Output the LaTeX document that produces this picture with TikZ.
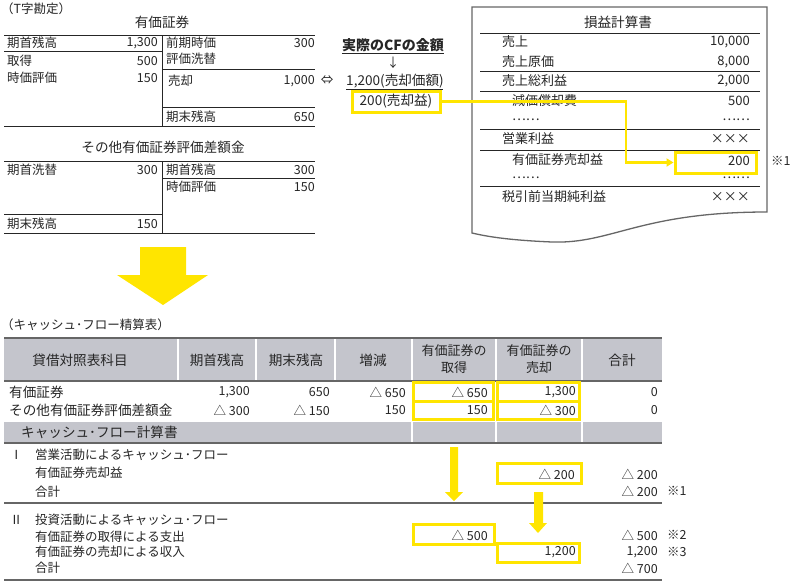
\documentclass[tikz,border=0pt]{standalone}
\usepackage{fontspec}
\setmainfont{Noto Sans CJK JP}
\usetikzlibrary{positioning,arrows.meta}
\definecolor{kiiro}{HTML}{FFE500}
\definecolor{hai}{HTML}{C4C5CC}
\definecolor{sen}{HTML}{666666}
\begin{document}
\begin{tikzpicture}[x=1pt, y=-1pt,
    every node/.style={font=\fontsize{12.5}{15}\selectfont, inner sep=0pt, text=black!85},
    big/.style={font=\fontsize{13.6}{16}\selectfont},
    lbl/.style={anchor=west},
    num/.style={anchor=east},
    rule/.style={draw=black!85, line width=0.9pt},
    grayrule/.style={draw=sen, line width=1.2pt},
    kwaku/.style={draw=kiiro, line width=3pt},
    kline/.style={draw=kiiro, line width=2.5pt},
    doc/.style={draw=black!60, line width=1.3pt, fill=white}]
    \useasboundingbox (0,0) rectangle (791,581);

    % T字勘定: 有価証券
    \node[lbl] (ttitle) at (1,9) {（T字勘定）};
    \node[big] (yk) at (162,22) {有価証券};
    \draw[rule] (4,35) -- (315,35);
    \draw[rule] (162,35) -- (162,126);
    \draw[rule] (4,126) -- (315,126);
    \draw[rule] (4,51) -- (162,51);
    \draw[rule] (162,69) -- (315,69);
    \draw[rule] (162,107) -- (315,107);
    \node[lbl] (yk1) at (7,43) {期首残高};   \node[num] at (158,43) {1,300};
    \node[lbl] (yk2) at (7,61) {取得};       \node[num] at (158,61) {500};
    \node[lbl] (yk3) at (7,78) {時価評価};   \node[num] at (158,78) {150};
    \node[lbl] (yk4) at (166,43) {前期時価}; \node[num] at (315,43) {300};
    \node[lbl] (yk5) at (166,59) {評価洗替};
    \node[lbl] (yk6) at (168,81) {売却};     \node[num] (baikyaku) at (315,81) {1,000};
    \node[lbl] (yk7) at (166,117) {期末残高}; \node[num] at (315,117) {650};

    % T字勘定: その他有価証券評価差額金
    \node[big] (sa) at (163,147) {その他有価証券評価差額金};
    \draw[rule] (4,161) -- (315,161);
    \draw[rule] (162,161) -- (162,233);
    \draw[rule] (4,233) -- (315,233);
    \draw[rule] (4,214) -- (162,214);
    \draw[rule] (162,178) -- (315,178);
    \node[lbl] (sa1) at (7,170) {期首洗替};   \node[num] at (158,170) {300};
    \node[lbl] (sa2) at (7,224) {期末残高};   \node[num] at (158,224) {150};
    \node[lbl] (sa3) at (166,170) {期首残高}; \node[num] at (315,170) {300};
    \node[lbl] (sa4) at (166,187) {時価評価}; \node[num] at (315,187) {150};

    % 実際のCF
    \node (eq) at (327,80) {⇔};
    \node[font=\fontsize{14}{16}\selectfont\bfseries] (cftitle) at (393,45) {実際のCFの金額};
    \draw[rule] ([yshift=-1.5]cftitle.south west) -- ([yshift=-1.5]cftitle.south east);
    \node (cfarrow) at (393,63) {↓};
    \node[big] (cfprice) at (395,81) {1,200(売却価額)};
    \draw[rule] (346,89) -- (443,89);
    \node[big, kwaku, minimum width=88, minimum height=21] (cfgain) at (396,101.5) {200(売却益)};

    % 損益計算書
    \draw[doc] (472,7) -- (767,7) -- (767,212) .. controls (640,212) and (612,244) .. (552,242)
        .. controls (505,240) and (485,236) .. (472,233) -- cycle;
    \node[big] (pl) at (618,22) {損益計算書};
    \draw[rule] (480,33) -- (760,33);
    \draw[rule] (480,71) -- (760,71);
    \draw[rule] (480,91) -- (760,91);
    \draw[rule] (480,129) -- (760,129);
    \draw[rule] (480,150) -- (760,150);
    \draw[rule] (480,186) -- (760,186);
    \begin{scope}[every node/.append style={font=\fontsize{13}{15}\selectfont}]
    \node[lbl] (pl1) at (502,42) {売上};           \node[num] at (750,42) {10,000};
    \node[lbl] (pl2) at (502,62) {売上原価};       \node[num] at (750,62) {8,000};
    \node[lbl] (pl3) at (502,81) {売上総利益};     \node[num] at (750,81) {2,000};
    \node[lbl] (pl4) at (512,101) {減価償却費};    \node[num] at (750,101) {500};
    \node[lbl] (pl5) at (512,120) {……};           \node[num] at (750,120) {……};
    \node[lbl] (pl6) at (502,139) {営業利益};       \node[num] at (750,139) {×××};
    \node[lbl] (pl7) at (512,160) {有価証券売却益}; \node[num] at (750,161) {200};
    \node[lbl] (pl8) at (512,178) {……};           \node[num] at (750,178) {……};
    \node[lbl] (pl9) at (502,197) {税引前当期純利益}; \node[num] at (750,197) {×××};
    \end{scope}
    \node[kwaku, minimum width=81, minimum height=21] (plgain) at (715.5,162.5) {};
    \node[lbl] (kome1a) at (771,161) {※1};

    % 売却益の流れ
    \coordinate (bend) at (626,101.5);
    \draw[kline, -{Triangle[length=7pt, width=8pt]}] (cfgain.east) -- (bend) |- (plgain.west);

    % 大きい矢印
    \fill[kiiro] (140,247) -- (186,247) -- (186,275) -- (208,275) -- (163,305)
        -- (117,275) -- (140,275) -- cycle;

    % キャッシュ・フロー精算表
    \node[lbl] (cstitle) at (1,325) {（キャッシュ･フロー精算表）};
    \fill[hai] (4,338) rectangle (662,381);
    \foreach \x in {178,256,335,412,496,582}
        \draw[white, line width=1.2pt] (\x,338) -- (\x,381);
    \draw[grayrule] (4,338) -- (662,338);
    \draw[grayrule] (4,381) -- (662,381);
    \node[big] (h1) at (80,360) {貸借対照表科目};
    \node[big] (h2) at (217,360) {期首残高};
    \node[big] (h3) at (296,360) {期末残高};
    \node[big] (h4) at (373,360) {増減};
    \node[align=center, font=\fontsize{13}{17}\selectfont] (h5) at (454,359.5) {有価証券の\\取得};
    \node[align=center, font=\fontsize{13}{17}\selectfont] (h6) at (539,359.5) {有価証券の\\売却};
    \node[big] (h7) at (622,360) {合計};

    \node[big, lbl] (r1) at (9,392) {有価証券};
    \node[num] at (250,392) {1,300};
    \node[num] at (330,392) {650};
    \node[num] at (406,392) {△ 650};
    \node[num] at (488,392) {△ 650};
    \node[num] at (576,392) {1,300};
    \node[num] at (658,392) {0};
    \node[big, lbl] (r2) at (9,410) {その他有価証券評価差額金};
    \node[num] at (250,410) {△ 300};
    \node[num] at (330,410) {△ 150};
    \node[num] at (406,410) {150};
    \node[num] at (488,410) {150};
    \node[num] at (576,410) {△ 300};
    \node[num] at (658,410) {0};
    \node[kwaku, minimum width=80, minimum height=19] (b1) at (453,391.5) {};
    \node[kwaku, minimum width=80, minimum height=18] (b2) at (453,410) {};
    \node[kwaku, minimum width=82, minimum height=19] (b3) at (538,391.5) {};
    \node[kwaku, minimum width=82, minimum height=18] (b4) at (538,410) {};

    \fill[hai] (4,422) rectangle (662,443);
    \foreach \x in {412,496,582}
        \draw[white, line width=1.2pt] (\x,422) -- (\x,443);
    \draw[grayrule] (4,443) -- (662,443);
    \node[big, lbl] (band) at (21,432) {キャッシュ･フロー計算書};

    % I 営業活動
    \node[lbl] (n1) at (10,455) {Ⅰ};
    \node[lbl] (s1) at (35,455) {営業活動によるキャッシュ･フロー};
    \node[lbl] (s2) at (35,473) {有価証券売却益};
    \node[lbl] (s3) at (35,492) {合計};
    \node[kwaku, minimum width=84, minimum height=20] (b5) at (539,473) {};
    \node[num] at (575,474) {△ 200};
    \node[num] at (658,474) {△ 200};
    \node[num] at (658,491) {△ 200};
    \node[lbl] (kome1) at (667,491) {※1};
    \draw[grayrule] (4,503) -- (662,503);

    % II 投資活動
    \node[lbl] (n2) at (10,520) {Ⅱ};
    \node[lbl] (s4) at (35,520) {投資活動によるキャッシュ･フロー};
    \node[lbl] (s5) at (35,537) {有価証券の取得による支出};
    \node[lbl] (s6) at (35,552) {有価証券の売却による収入};
    \node[lbl] (s7) at (35,568) {合計};
    \node[kwaku, minimum width=81, minimum height=20] (b6) at (453.5,534) {};
    \node[num] at (488,535) {△ 500};
    \node[kwaku, minimum width=82, minimum height=19] (b7) at (538,552.5) {};
    \node[num] at (576,552) {1,200};
    \node[num] at (658,535) {△ 500};
    \node[lbl] (kome2) at (667,535) {※2};
    \node[num] at (658,552) {1,200};
    \node[lbl] (kome3) at (667,552) {※3};
    \node[num] at (658,568) {△ 700};
    \draw[grayrule] (4,580) -- (662,580);

    % 黄色い矢印
    \fill[kiiro] (450,447) -- (458,447) -- (458,492) -- (463,492) -- (454,501)
        -- (445,492) -- (450,492) -- cycle;
    \fill[kiiro] (534,492) -- (543,492) -- (543,523) -- (547,523) -- (538,533)
        -- (529,523) -- (534,523) -- cycle;
\end{tikzpicture}
\end{document}
